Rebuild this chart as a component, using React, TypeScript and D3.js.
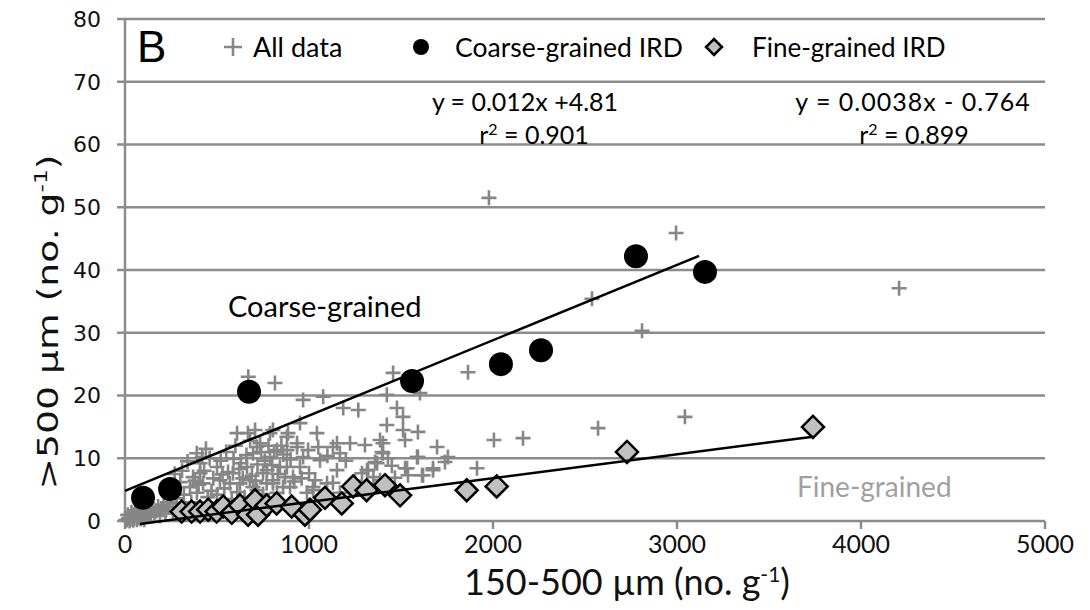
import React from "react";
import * as d3 from "d3";

// All samples: 150-500 µm count (x) vs >500 µm count (y), no. per gram
const allData: [number, number][] = [
  // sparse high values
  [1978, 51.5], [2995, 45.9], [4207, 37.1], [2538, 35.4], [2810, 30.3], [3043, 16.6],
  [2571, 14.8], [2163, 13.2], [2005, 12.9], [1864, 23.7], [1913, 8.4],
  // main cloud
  [670, 23], [815, 22], [968, 19.3], [1077, 19.8], [1186, 18], [1268, 17.7], [1457, 23.6],
  [1603, 20.4], [1423, 20.1], [1478, 18], [1511, 16.6], [1423, 15.3], [1511, 14.5],
  [1592, 14.2], [1522, 12.9], [1696, 11.8], [1755, 10.2], [1674, 8.4], [1614, 7.3],
  [1533, 8.4], [1587, 10.2], [951, 15.6], [1043, 14], [609, 14], [707, 14.5], [804, 14.5],
  [880, 13.4], [1130, 11.8], [1223, 12.4], [1304, 12.1], [1386, 12.9], [1402, 10.8],
  [1370, 9.2], [1288, 7.6], [1152, 8.1], [1098, 6], [1022, 5.4], [1060, 9.7], [968, 10.2],
  [734, 12.4], [696, 10.8], [788, 10.2], [880, 11.3], [935, 11.8], [951, 8.6], [842, 8.6],
  [750, 7.6], [663, 8.6], [587, 7.6], [500, 8.6], [408, 9.2], [408, 7.6], [516, 6.5],
  [424, 6.0], [353, 5.4], [391, 4.5], [625, 6], [696, 5.4], [804, 6], [897, 5.4], [989, 4.5],
  [826, 4.5], [1402, 12.4], [1397, 11], [1429, 10], [1592, 10.2], [1739, 9.4], [1359, 9.4],
  [1674, 8.1], [1522, 8.4], [1620, 7.3], [1538, 7.3], [1321, 8.1], [1467, 6.9], [1386, 6.5],
  [668, 14], [788, 14], [886, 14], [717, 11.8], [826, 11.3], [935, 12.4], [995, 11.3],
  [1152, 12.4], [1168, 10.8], [1315, 8.1], [772, 8.1], [880, 8.6], [679, 6.5], [804, 6.5],
  [913, 7.0], [1033, 6.5], [1022, 4.9], [1130, 6.1], [1168, 4.5], [717, 4.9], [859, 5.4],
  // dense low-count region
  [340, 9.5], [370, 7.0], [400, 5.8], [430, 8.0], [460, 10.0], [480, 6.8], [520, 9.6],
  [540, 5.2], [560, 7.8], [590, 9.9], [610, 4.6], [640, 6.8], [660, 10.5], [690, 7.2],
  [720, 9.0], [750, 4.3], [770, 6.0], [800, 8.9], [830, 7.5], [860, 10.6], [300, 6.2],
  [320, 4.2], [280, 3.6], [360, 3.0], [450, 3.8], [500, 4.2], [580, 3.5], [650, 3.8],
  [700, 3.2], [250, 5.0], [230, 3.0], [270, 7.5], [310, 8.0], [390, 10.8], [440, 11.5],
  [470, 4.8], [550, 11.0], [600, 12.0], [620, 8.3], [680, 12.8], [740, 11.0], [780, 12.0],
  [850, 12.0], [900, 9.8], [920, 6.3], [1000, 7.6], [1050, 11.8], [1100, 10.4], [1200, 9.6],
  [1250, 6.4], [1350, 7.0], [1420, 5.5], [1450, 8.8], [380, 6.4], [420, 10.2], [530, 7.4],
  [570, 6.0], [630, 9.2], [710, 6.4], [760, 9.6], [810, 11.0], [870, 7.0], [960, 6.8],
  // near the origin
  [10, 0.2], [20, 0.5], [30, 0.3], [40, 0.8], [50, 0.4], [60, 1.0], [70, 0.6], [80, 1.2],
  [90, 0.5], [100, 1.5], [110, 0.9], [120, 1.8], [130, 0.7], [140, 1.3], [150, 2.0],
  [160, 1.0], [170, 1.6], [180, 2.3], [190, 0.8], [200, 1.9], [210, 2.6], [220, 1.2],
  [240, 2.2], [260, 1.6], [280, 2.8], [300, 2.0], [15, 1.0], [35, 1.4], [55, 1.7], [75, 2.0],
  [95, 2.4], [125, 2.8], [5, 0.1], [25, 0.0], [45, 0.1], [65, 0.2], [85, 0.3], [105, 0.2],
];

// Coarse-grained IRD samples
const coarseData: [number, number][] = [
  [98, 3.7], [245, 5.1], [674, 20.6], [1560, 22.3], [2043, 25.0], [2261, 27.2], [2777, 42.2], [3152, 39.7],
];

// Fine-grained IRD samples
const fineData: [number, number][] = [
  [308, 1.5], [362, 1.5], [408, 1.5], [452, 1.8], [498, 1.5], [534, 2.3], [580, 1.3],
  [625, 2.5], [669, 1.0], [707, 3.3], [723, 1.0], [770, 2.5], [824, 2.8], [906, 2.3],
  [978, 1.0], [1005, 1.8], [1087, 3.7], [1178, 2.8], [1240, 5.5], [1313, 4.9], [1413, 5.7],
  [1495, 4.1], [1857, 4.9], [2020, 5.5], [2728, 11.0], [3739, 15.0],
];

// Linear fits: [slope, intercept, xStart, xEnd]
const coarseFit = [0.012, 4.81, 0, 3120];
const fineFit = [0.0038, -0.764, 80, 3739];

const xTicks = [0, 1000, 2000, 3000, 4000, 5000];
const yTicks = [0, 10, 20, 30, 40, 50, 60, 70, 80];

const W = 1090;
const H = 610;
const left = 125;
const right = 1045;
const top = 19;
const bottom = 521;

const calibri = "Lato, 'Open Sans', sans-serif";
const verdana = "'DejaVu Sans', Verdana, sans-serif";
const gridColor = "#8c8c8c";
const plusColor = "#868686";

export default function App() {
  const x = d3.scaleLinear().domain([0, 5000]).range([left, right]);
  const y = d3.scaleLinear().domain([0, 80]).range([bottom, top]);
  const line = d3.line<[number, number]>().x((d) => x(d[0])).y((d) => y(d[1]));

  const fitPts = (f: number[]): [number, number][] => [
    [f[2], f[0] * f[2] + f[1]],
    [f[3], f[0] * f[3] + f[1]],
  ];

  const diamond = (cx: number, cy: number, r: number) =>
    `M${cx},${cy - r}L${cx + r},${cy}L${cx},${cy + r}L${cx - r},${cy}Z`;
  const plus = (cx: number, cy: number, r: number) =>
    `M${cx - r},${cy}H${cx + r}M${cx},${cy - r}V${cy + r}`;

  return (
    <svg
      width={W}
      height={H}
      style={{ position: "absolute", left: 0, top: 0, background: "#fff" }}
    >
      {/* horizontal gridlines */}
      {yTicks.slice(1).map((t) => (
        <line key={t} x1={left} x2={right} y1={y(t)} y2={y(t)} stroke={gridColor} strokeWidth={2.5} />
      ))}
      {/* axes */}
      <line x1={left} x2={left} y1={top - 1} y2={bottom} stroke={gridColor} strokeWidth={2.5} />
      <line x1={left} x2={right} y1={bottom} y2={bottom} stroke={gridColor} strokeWidth={2.5} />
      {yTicks.map((t) => (
        <line key={t} x1={left - 8} x2={left} y1={y(t)} y2={y(t)} stroke={gridColor} strokeWidth={2.5} />
      ))}
      {xTicks.map((t) => (
        <line key={t} x1={x(t)} x2={x(t)} y1={bottom} y2={bottom + 8} stroke={gridColor} strokeWidth={2.5} />
      ))}
      {/* tick labels */}
      {yTicks.map((t) => (
        <text key={t} x={101} y={y(t)} dy="0.36em" textAnchor="end" fontFamily={verdana} fontSize={22} fill="#111">
          {t}
        </text>
      ))}
      {xTicks.map((t) => (
        <text key={t} x={x(t)} y={553} textAnchor="middle" fontFamily={calibri} fontSize={25} fill="#111">
          {t}
        </text>
      ))}
      {/* axis titles */}
      <text x={627} y={595} textAnchor="middle" fontFamily={calibri} fontSize={36} fill="#111">
        150-500 µm (no. g<tspan dy={-13} fontSize={21}>-1</tspan><tspan dy={13}>)</tspan>
      </text>
      <text
        transform="translate(58,322) rotate(-90) scale(1.3,1)"
        textAnchor="middle"
        fontFamily={verdana}
        fontSize={29}
        fill="#111"
      >
        &gt;500  µm (no. g<tspan dy={-11} fontSize={18}>-1</tspan><tspan dy={11}>)</tspan>
      </text>

      {/* all data */}
      <g stroke={plusColor} strokeWidth={2.6} fill="none">
        {allData.map((d, i) => (
          <path key={i} d={plus(x(d[0]), y(d[1]), 7.5)} />
        ))}
      </g>
      {/* coarse-grained IRD */}
      <g fill="#000">
        {coarseData.map((d, i) => (
          <circle key={i} cx={x(d[0])} cy={y(d[1])} r={12} />
        ))}
      </g>
      {/* fine-grained IRD */}
      <g fill="#c0c0c0" stroke="#000" strokeWidth={2.5} strokeLinejoin="miter">
        {fineData.map((d, i) => (
          <path key={i} d={diamond(x(d[0]), y(d[1]), 11)} />
        ))}
      </g>
      {/* trend lines */}
      <path d={line(fitPts(coarseFit)) ?? ""} stroke="#000" strokeWidth={2.5} fill="none" />
      <path d={line(fitPts(fineFit)) ?? ""} stroke="#000" strokeWidth={2.5} fill="none" />

      {/* legend */}
      <text x={137} y={62} fontFamily="'Liberation Sans', Arial, sans-serif" fontSize={44} fill="#000">B</text>
      <path d={plus(233, 47, 9)} stroke={plusColor} strokeWidth={2.6} />
      <text x={253} y={57} fontFamily={calibri} fontSize={27} fill="#000">All data</text>
      <circle cx={421} cy={47} r={8} fill="#000" />
      <text x={455} y={57} fontFamily={calibri} fontSize={26.5} fill="#000">Coarse-grained IRD</text>
      <path d={diamond(714, 47, 8)} fill="#c0c0c0" stroke="#000" strokeWidth={2.5} />
      <text x={752} y={57} fontFamily={calibri} fontSize={26} fill="#000">Fine-grained IRD</text>

      {/* regression equations */}
      <text x={525} y={111} textAnchor="middle" fontFamily={calibri} fontSize={25} fill="#000">
        y = 0.012x +4.81
      </text>
      <text x={534} y={144} textAnchor="middle" fontFamily={calibri} fontSize={25} fill="#000">
        r<tspan dy={-9} fontSize={16}>2</tspan><tspan dy={9}> = 0.901</tspan>
      </text>
      <text x={913} y={111} textAnchor="middle" fontFamily={calibri} fontSize={25} fill="#000" letterSpacing={1}>
        y = 0.0038x - 0.764
      </text>
      <text x={914} y={144} textAnchor="middle" fontFamily={calibri} fontSize={25} fill="#000">
        r<tspan dy={-9} fontSize={16}>2</tspan><tspan dy={9}> = 0.899</tspan>
      </text>

      {/* region labels */}
      <text x={228} y={317} fontFamily={calibri} fontSize={29} fill="#000">Coarse-grained</text>
      <text x={797} y={497} fontFamily={calibri} fontSize={28} fill="#a0a0a0">Fine-grained</text>
    </svg>
  );
}
